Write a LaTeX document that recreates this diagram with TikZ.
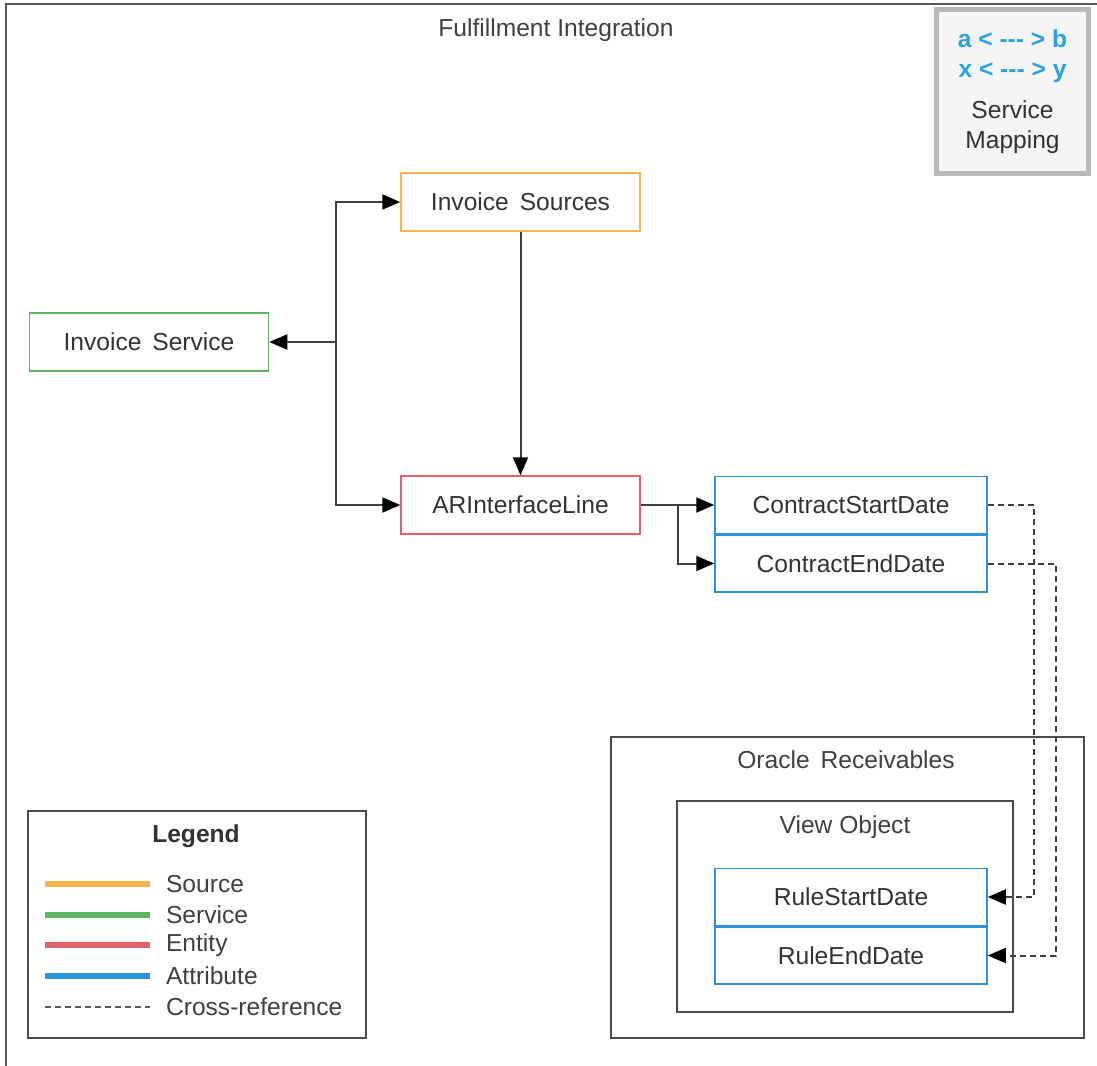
\documentclass[tikz,border=0pt]{standalone}
\usepackage{fontspec}
\setmainfont{Liberation Sans}
\usepackage{xcolor}
\usetikzlibrary{arrows.meta,positioning,calc}

\definecolor{srcorange}{HTML}{F5B647}
\definecolor{svcgreen}{HTML}{5DB55F}
\definecolor{entred}{HTML}{E4606A}
\definecolor{attblue}{HTML}{2B93D8}
\definecolor{mapblue}{HTML}{2AA2E2}
\definecolor{txtgray}{HTML}{333333}

\begin{document}
\begin{tikzpicture}[
  x=0.5pt, y=-0.5pt,
  txt/.style={font=\fontsize{12.3}{15}\selectfont, text=txtgray},
  box/.style={draw, line width=0.75pt, minimum width=119.5pt,
              minimum height=29pt, txt, inner sep=0pt},
  attr/.style={box, draw=attblue, minimum width=136pt, minimum height=28.5pt},
  frame/.style={draw=black!70, line width=1pt, inner sep=0pt},
  arrow/.style={-{Triangle[length=9pt,width=7.5pt,color=black]},
                line width=1pt, black!75},
  xref/.style={arrow, dash pattern=on 3pt off 2pt},
  legline/.style={line width=2.7pt},
]
  \useasboundingbox (0,0) rectangle (1097,1065);

  % Outer frame
  \draw[black!65, line width=1.2pt] (6,1070) -- (6,4) -- (1100,4);
  \node[txt, text=black!75] (title) at (556,30) {Fulfillment Integration};

  % Service mapping key
  \node[draw=gray!55, line width=2.5pt, fill=gray!8, minimum width=76pt,
        minimum height=82pt, inner sep=0pt, align=center, txt]
    (mapping) at (1012.5,91.5)
    {\textcolor{mapblue}{\textbf{a < -{}-{}- > b}}\\
     \textcolor{mapblue}{\textbf{x < -{}-{}- > y}}\\[5.5pt]
     Service\\Mapping};

  % Source, service and entity
  \node[box, draw=srcorange] (sources) at (520.5,202) {Invoice\, Sources};
  \node[box, draw=svcgreen] (service) at (149,342) {Invoice\, Service};
  \node[box, draw=entred] (arline) at (520.5,505) {ARInterfaceLine};

  % Attributes
  \node[attr] (cstart) at (851,505) {ContractStartDate};
  \node[attr, below=0pt of cstart] (cend) {ContractEndDate};

  % Oracle Receivables
  \node[frame, minimum width=236.5pt, minimum height=150.5pt]
    (oracle) at (847.5,887.5) {};
  \node[txt, text=black!75] (oracletitle) at (846,760) {Oracle\, Receivables};
  \node[frame, minimum width=168pt, minimum height=105.5pt]
    (viewobj) at (845,906.5) {};
  \node[txt, text=black!75] (viewtitle) at (845,827) {View Object};
  \node[attr] (rstart) at (851,897) {RuleStartDate};
  \node[attr, below=0pt of rstart] (rend) {RuleEndDate};

  % Arrows
  \coordinate (jleft) at (336,342);
  \coordinate (jright) at (678,505);
  \draw[arrow] (jleft) |- (sources.west);
  \draw[arrow] (jleft) |- (arline.west);
  \draw[arrow] (jleft) -- (service.east);
  \draw[arrow] (sources.south) -- (arline.north);
  \draw[arrow] (arline.east) -- (cstart.west);
  \draw[arrow] (jright) |- (cend.west);

  % Cross-references
  \draw[xref] (cstart.east) -- ++(46,0) |- (rstart.east);
  \draw[xref] (cend.east) -- ++(68,0) |- (rend.east);

  % Legend
  \node[frame, minimum width=169pt, minimum height=113.5pt]
    (legend) at (197,924.5) {};
  \node[txt, font=\fontsize{12.3}{15}\selectfont\bfseries] (legendtitle)
    at (196,836) {Legend};
  \foreach \name/\col/\ypos in {Source/srcorange/884, Service/svcgreen/915,
                                Entity/entred/945, Attribute/attblue/976} {
    \draw[legline, \col] (45,\ypos) -- (150,\ypos);
    \node[txt, text=black!75, anchor=west] (leg\name) at (159,\ypos) {\name};
  }
  \draw[black!65, line width=1pt, dash pattern=on 3pt off 2pt]
    (45,1007) -- (150,1007);
  \node[txt, text=black!75, anchor=west] (legxref) at (159,1007)
    {Cross-reference};
\end{tikzpicture}
\end{document}
